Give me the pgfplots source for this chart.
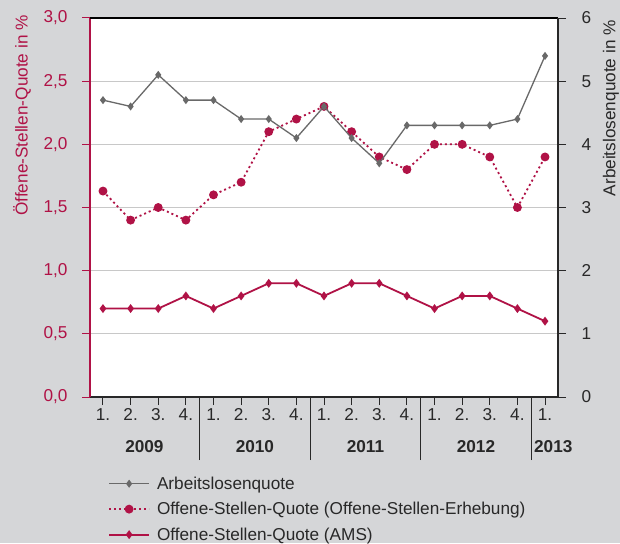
\documentclass[border=0pt]{standalone}
\usepackage{pgfplots}
\pgfplotsset{compat=1.18}
\usepackage{fontspec}
\setmainfont{Liberation Sans}
\definecolor{crim}{RGB}{176,18,70}
\definecolor{bg}{RGB}{213,214,216}
\definecolor{lgray}{RGB}{105,105,105}
\definecolor{gridc}{RGB}{200,200,200}
\definecolor{txt}{RGB}{40,40,40}
\newcommand{\fs}{\fontsize{17.2}{20}\selectfont}
\begin{document}
\begin{tikzpicture}[x=1pt,y=1pt]
\fill[bg] (0,0) rectangle (620,543);
\useasboundingbox (0,0) rectangle (620,543);
\begin{axis}[
 at={(90pt,146pt)}, anchor=south west,
 scale only axis, width=468pt, height=379pt,
 xmin=-0.47, xmax=16.47, ymin=0, ymax=3,
 axis x line*=bottom, axis y line*=left,
 axis background/.style={fill=white},
 ymajorgrids, grid style={gridc, line width=1pt},
 ytick={0,0.5,...,3},
 /pgf/number format/assume math mode=true,
 /pgf/number format/use comma,
 yticklabel style={/pgf/number format/fixed, /pgf/number format/fixed zerofill, /pgf/number format/precision=1},
 yticklabel style={text=crim, font=\fs, xshift=-11pt},
 y tick style={crim, line width=1pt},
 y axis line style={crim, line width=2.5pt},
 x axis line style={txt, line width=1.5pt},
 x tick style={txt, line width=1pt},
 tick align=outside, major tick length=8pt,
 xtick={0,...,16},
 xticklabels={1.,2.,3.,4.,1.,2.,3.,4.,1.,2.,3.,4.,1.,2.,3.,4.,1.},
 xticklabel style={text=txt, font=\fs},
 extra x ticks={3.5,7.5,11.5,15.5},
 extra x tick labels={},
 extra x tick style={major tick length=63pt},
 ylabel={Öffene-Stellen-Quote in \%},
 ylabel style={at={(axis description cs:-0.1453,1.0166)}, anchor=east, text=crim, font=\fs},
 clip=false,
]
\addplot[crim, line width=1.8pt, dash pattern=on 2pt off 3pt, mark=*, mark size=3.5pt, mark options={solid}]
 coordinates {(0,1.63)(1,1.4)(2,1.5)(3,1.4)(4,1.6)(5,1.7)(6,2.1)(7,2.2)(8,2.3)(9,2.1)(10,1.9)(11,1.8)(12,2.0)(13,2.0)(14,1.9)(15,1.5)(16,1.9)};
\addplot[crim, line width=1.8pt, mark=diamond*, mark size=3pt]
 coordinates {(0,0.7)(1,0.7)(2,0.7)(3,0.8)(4,0.7)(5,0.8)(6,0.9)(7,0.9)(8,0.8)(9,0.9)(10,0.9)(11,0.8)(12,0.7)(13,0.8)(14,0.8)(15,0.7)(16,0.6)};
\node[font=\fs\bfseries, text=txt] at (axis cs:1.5,0) [yshift=-50pt] {2009};
\node[font=\fs\bfseries, text=txt] at (axis cs:5.5,0) [yshift=-50pt] {2010};
\node[font=\fs\bfseries, text=txt] at (axis cs:9.5,0) [yshift=-50pt] {2011};
\node[font=\fs\bfseries, text=txt] at (axis cs:13.5,0) [yshift=-50pt] {2012};
\node[font=\fs\bfseries, text=txt] at (axis cs:16.3,0) [yshift=-50pt] {2013};
\end{axis}
\begin{axis}[
 at={(90pt,146pt)}, anchor=south west,
 scale only axis, width=468pt, height=379pt,
 xmin=-0.47, xmax=16.47, ymin=0, ymax=6,
 axis y line*=right, axis x line*=top, xtick=\empty,
 ytick={0,...,6},
 /pgf/number format/assume math mode=true,
 tick align=outside, major tick length=8pt,
 yticklabel style={text=txt, font=\fs, xshift=12pt},
 y tick style={txt, line width=1pt},
 y axis line style={txt, line width=2pt},
 x axis line style={black, line width=1.5pt},
 ylabel={Arbeitslosenquote in \%},
 ylabel style={at={(axis description cs:1.113,1.0034)}, anchor=east, text=txt, font=\fs},
 legend style={at={(axis description cs:0.0385,-0.2045)}, anchor=north west, draw=none, fill=none, font=\fs, text=txt, row sep=7.5pt, column sep=5pt, inner sep=0pt},
 legend cell align=left,
 legend image code/.code={\draw[mark repeat=2,mark phase=2,#1] plot coordinates {(0pt,0pt) (20pt,0pt) (40pt,0pt)};},
]
\addplot[lgray, line width=1.3pt, mark=diamond*, mark size=3pt]
 coordinates {(0,4.7)(1,4.6)(2,5.1)(3,4.7)(4,4.7)(5,4.4)(6,4.4)(7,4.1)(8,4.6)(9,4.1)(10,3.7)(11,4.3)(12,4.3)(13,4.3)(14,4.3)(15,4.4)(16,5.4)};
\addlegendentry{Arbeitslosenquote}
\addlegendimage{crim, line width=1.8pt, dash pattern=on 2pt off 3pt, mark=*, mark size=3.5pt, mark options={solid}}
\addlegendentry{Offene-Stellen-Quote (Offene-Stellen-Erhebung)}
\addlegendimage{crim, line width=1.8pt, mark=diamond*, mark size=3pt}
\addlegendentry{Offene-Stellen-Quote (AMS)}
\end{axis}
\end{tikzpicture}
\end{document}
